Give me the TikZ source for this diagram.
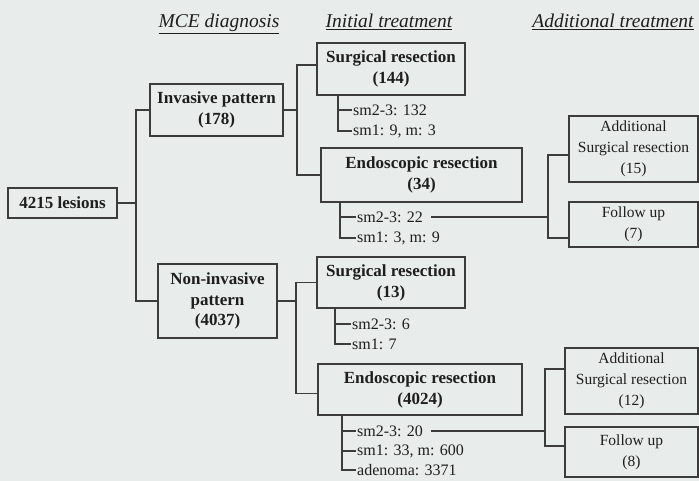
\documentclass[tikz,border=0pt]{standalone}
\usepackage{fontspec}
\setmainfont{Liberation Serif}
\definecolor{bgc}{RGB}{232,236,234}
\definecolor{ink}{RGB}{30,30,30}
\definecolor{lnc}{RGB}{60,60,60}
\begin{document}
\begin{tikzpicture}[x=1pt,y=-1pt,
  box/.style={draw=lnc,line width=1.5pt,inner sep=0pt,outer sep=0pt,align=center,text=ink,
    font=\fontsize{17}{21}\selectfont\bfseries},
  addbox/.style={box,font=\fontsize{15.5}{21}\selectfont},
  hdr/.style={anchor=base,text=ink,font=\fontsize{19.5}{22}\selectfont\itshape,inner sep=0pt},
  lbl/.style={anchor=west,text=ink,inner sep=0pt,font=\fontsize{16}{18}\selectfont},
  conn/.style={draw=lnc,line width=1.3pt}]
\useasboundingbox (0,0) rectangle (699,481);
\fill[bgc] (0,0) rectangle (699,481);
% headers
\node[hdr] (h1) at (219,28) {\underline{MCE diagnosis}};
\node[hdr] (h2) at (389,28) {\underline{Initial treatment}};
\node[hdr] (h3) at (613,28) {\underline{Additional treatment}};
% boxes
\node[box,minimum width=109,minimum height=30] (lesions) at (62.5,203) {4215 lesions};
\node[box,minimum width=133,minimum height=52] (inv) at (216.5,110) {Invasive pattern\\(178)};
\node[box,minimum width=119,minimum height=74,font=\fontsize{17}{20.5}\selectfont\bfseries] (noninv) at (217.5,301) {Non-invasive\\pattern\\(4037)};
\node[box,minimum width=148,minimum height=52] (sur1) at (391,69) {Surgical resection\\(144)};
\node[box,minimum width=201,minimum height=54] (endo1) at (421.5,175) {Endoscopic resection\\(34)};
\node[box,minimum width=148,minimum height=51] (sur2) at (391,282.5) {Surgical resection\\(13)};
\node[box,minimum width=204,minimum height=51] (endo2) at (420,389.5) {Endoscopic resection\\(4024)};
\node[addbox,minimum width=129,minimum height=66] (add1) at (633.5,149) {Additional\\Surgical resection\\(15)};
\node[addbox,minimum width=129,minimum height=45] (fol1) at (633.5,224.5) {Follow up\\(7)};
\node[addbox,minimum width=133,minimum height=66] (add2) at (631.5,381) {Additional\\Surgical resection\\(12)};
\node[addbox,minimum width=133,minimum height=50] (fol2) at (631.5,452) {Follow up\\(8)};
% sub labels
\node[lbl] (s1a) at (353,110) {sm2-3: 132};
\node[lbl] (s1b) at (353,131) {sm1: 9, m: 3};
\node[lbl] (e1a) at (357,217) {sm2-3: 22};
\node[lbl] (e1b) at (357,238) {sm1: 3, m: 9};
\node[lbl] (s2a) at (352,324) {sm2-3: 6};
\node[lbl] (s2b) at (352,344) {sm1: 7};
\node[lbl] (e2a) at (357,431) {sm2-3: 20};
\node[lbl] (e2b) at (357,451) {sm1: 33, m: 600};
\node[lbl] (e2c) at (357,470) {adenoma: 3371};
% junction coordinates
\coordinate (j0) at (136,0);
\coordinate (j1) at (297,0);
\coordinate (j2) at (296,0);
\coordinate (k1) at (338,0);
\coordinate (k2) at (340,0);
\coordinate (k3) at (335,0);
\coordinate (k4) at (342,0);
\coordinate (m1) at (548,0);
\coordinate (m2) at (545,0);
% attachment points
\coordinate (sur1in) at ([yshift=4pt]sur1.west);
\coordinate (endo2in) at ([yshift=-4pt]endo2.west);
\coordinate (add1in) at ([yshift=-6pt]add1.west);
\coordinate (fol1in) at ([yshift=-13.5pt]fol1.west);
\coordinate (add2in) at ([yshift=12pt]add2.west);
\coordinate (fol2in) at ([yshift=6pt]fol2.west);
\coordinate (e1out) at ([xshift=8pt]e1a.east);
\coordinate (e2out) at ([xshift=8pt]e2a.east);
% tree connectors
\draw[conn] (lesions.east) -- (j0 |- lesions.east);
\draw[conn] (inv.west) -- (j0 |- inv.west) -- (j0 |- noninv.west) -- (noninv.west);
\draw[conn] (inv.east) -- (j1 |- inv.east);
\draw[conn] (sur1in) -- (j1 |- sur1in) -- (j1 |- endo1.west) -- (endo1.west);
\draw[conn] (noninv.east) -- (j2 |- noninv.east);
\draw[conn] (sur2.west) -- (j2 |- sur2.west) -- (j2 |- endo2in) -- (endo2in);
% lists
\draw[conn] (k1 |- sur1.south) -- (k1 |- s1b.west) -- ([xshift=-1pt]s1b.west);
\draw[conn] (k1 |- s1a.west) -- ([xshift=-1pt]s1a.west);
\draw[conn] (k2 |- endo1.south) -- (k2 |- e1b.west) -- ([xshift=-1pt]e1b.west);
\draw[conn] (k2 |- e1a.west) -- ([xshift=-1pt]e1a.west);
\draw[conn] (k3 |- sur2.south) -- (k3 |- s2b.west) -- ([xshift=-1pt]s2b.west);
\draw[conn] (k3 |- s2a.west) -- ([xshift=-1pt]s2a.west);
\draw[conn] (k4 |- endo2.south) -- (k4 |- e2c.west) -- ([xshift=-1pt]e2c.west);
\draw[conn] (k4 |- e2a.west) -- ([xshift=-1pt]e2a.west);
\draw[conn] (k4 |- e2b.west) -- ([xshift=-1pt]e2b.west);
% to additional treatment
\draw[conn] (e1out) -- (m1 |- e1out);
\draw[conn] (add1in) -- (m1 |- add1in) -- (m1 |- fol1in) -- (fol1in);
\draw[conn] (e2out) -- (m2 |- e2out);
\draw[conn] (add2in) -- (m2 |- add2in) -- (m2 |- fol2in) -- (fol2in);
\end{tikzpicture}
\end{document}
